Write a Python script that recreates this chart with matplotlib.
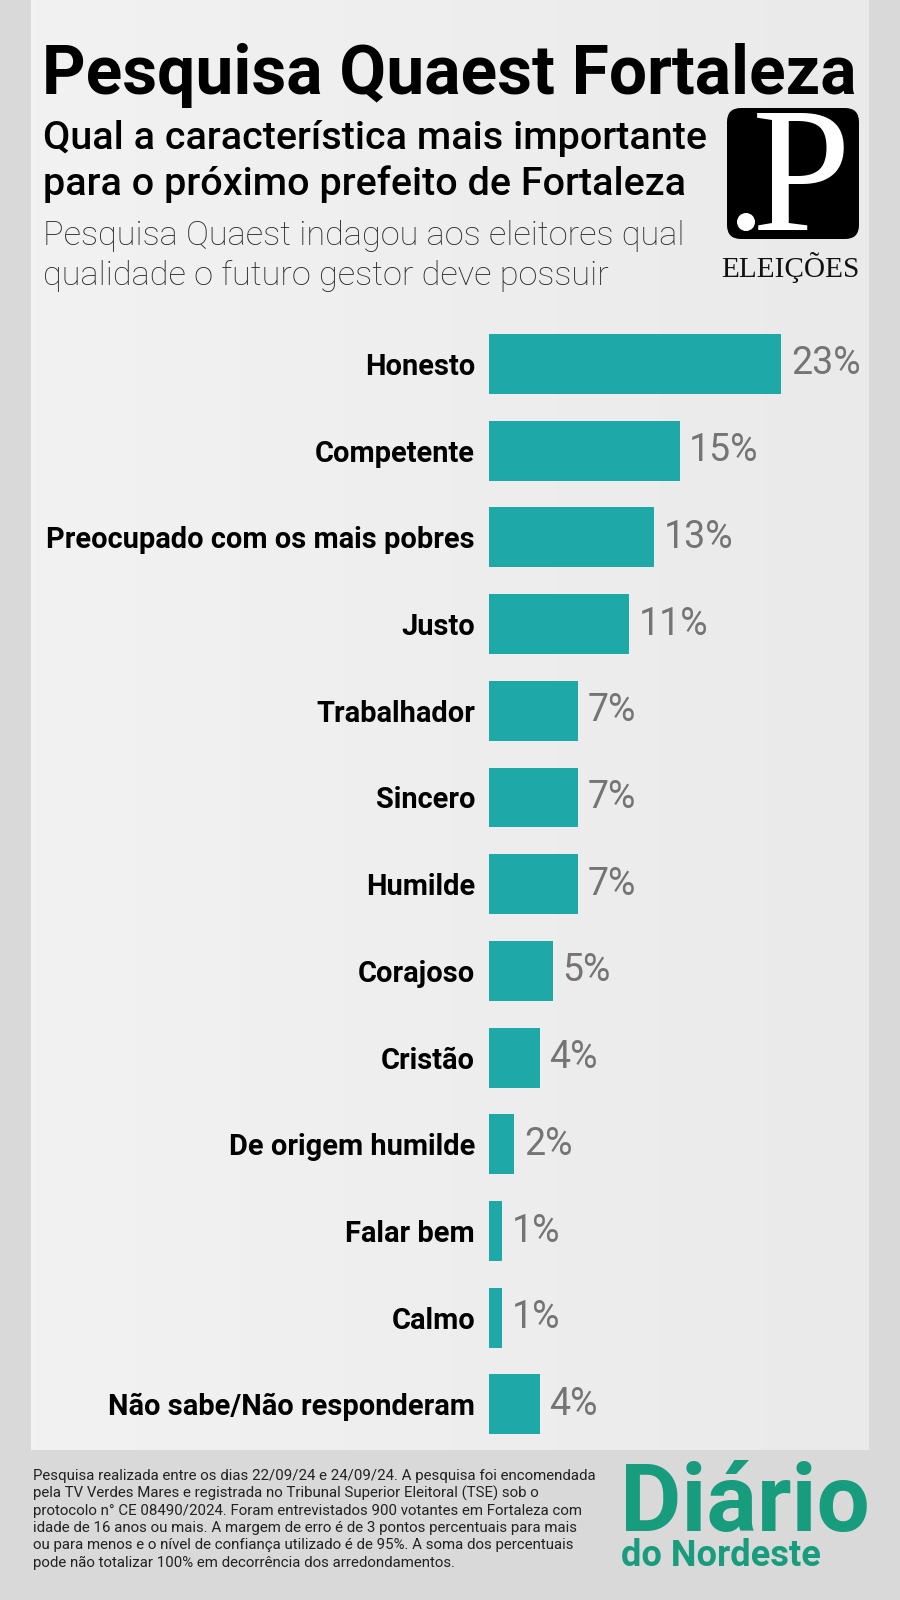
import matplotlib as mpl
mpl.use('Agg')
import numpy as np
import matplotlib.pyplot as plt
from matplotlib.patches import FancyBboxPatch, Circle

# data
categories = ['Honesto', 'Competente', 'Preocupado com os mais pobres', 'Justo',
              'Trabalhador', 'Sincero', 'Humilde', 'Corajoso', 'Cristão',
              'De origem humilde', 'Falar bem', 'Calmo', 'Não sabe/Não responderam']
values = [23, 15, 13, 11, 7, 7, 7, 5, 4, 2, 1, 1, 4]

title = 'Pesquisa Quaest Fortaleza'
subtitle = ['Qual a característica mais importante',
            'para o próximo prefeito de Fortaleza']
description = ['Pesquisa Quaest indagou aos eleitores qual',
               'qualidade o futuro gestor deve possuir']
footnote = ['Pesquisa realizada entre os dias 22/09/24 e 24/09/24. A pesquisa foi encomendada',
            'pela TV Verdes Mares e registrada no Tribunal Superior Eleitoral (TSE) sob o',
            'protocolo n° CE 08490/2024. Foram entrevistados 900 votantes em Fortaleza com',
            'idade de 16 anos ou mais. A margem de erro é de 3 pontos percentuais para mais',
            'ou para menos e o nível de confiança utilizado é de 95%. A soma dos percentuais',
            'pode não totalizar 100% em decorrência dos arredondamentos.']

W, H = 900, 1600
BAR = '#1fa8a8'
GREEN = '#179c7d'

fig = plt.figure(figsize=(W / 100, H / 100), dpi=100)
fig.patch.set_facecolor('#d9d9d9')
renderer = fig.canvas.get_renderer()

# background layer in pixel coordinates
bg = fig.add_axes([0, 0, 1, 1])
bg.set_xlim(0, W)
bg.set_ylim(H, 0)
bg.axis('off')
grad = np.linspace(0, 1, 256).reshape(1, -1)
bg.imshow(np.vstack([grad] * 2), extent=(31, 869, 1450, 0), aspect='auto',
          cmap=mpl.colors.LinearSegmentedColormap.from_list('g', ['#f2f2f2', '#eaeaea']),
          zorder=0)


def fit(x, y, s, width, **kw):
    """Put text and scale its size so it is `width` pixels wide"""
    t = bg.text(x, y, s, **kw)
    bb = t.get_window_extent(renderer)
    t.set_fontsize(t.get_fontsize() * width / bb.width)
    return t


fit(42, 94, title, 813, fontsize=40, family='Roboto', weight='bold',
    color='black', va='baseline')
s1 = fit(43, 149, subtitle[0], 664, fontsize=20, family='Roboto', weight='medium',
         color='black', va='baseline')
bg.text(43, 195, subtitle[1], fontsize=s1.get_fontsize(), family='Roboto',
        weight='medium', color='black', va='baseline')
d1 = fit(43, 245, description[0], 639, fontsize=20, family='Roboto', weight='light',
         color='#2a2a2a', va='baseline')
bg.text(43, 285, description[1], fontsize=d1.get_fontsize(), family='Roboto',
        weight='light', color='#2a2a2a', va='baseline')

# .P logo
bg.add_patch(FancyBboxPatch((730, 111), 126, 125, boxstyle='round,pad=3,rounding_size=14',
                            fc='black', ec='none', zorder=2))
bg.text(801, 230, 'P', fontsize=128, family='Liberation Serif', color='white',
        ha='center', va='baseline', zorder=3)
bg.add_patch(Circle((746, 222), 9, fc='white', ec='none', zorder=3))
fit(721, 277, 'ELEIÇÕES', 138, fontsize=18, family='Liberation Serif', color='#111111',
    va='baseline')

# bar chart
px = 12.7  # pixels per percentage point
row = 86.7
top_c = 364
x0 = 489
ax = fig.add_axes([x0 / W, 1 - (top_c + 12.5 * row) / H, (869 - x0) / W, 13 * row / H])
ax.set_xlim(0, (869 - x0) / px)
ax.set_ylim(12.5, -0.5)
ax.patch.set_alpha(0)
y = np.arange(len(categories))
ax.barh(y, values, height=0.69, color=BAR, zorder=2)
for yi, v in zip(y, values):
    ax.annotate(f'{v}%', (v, yi), xytext=(7, 0), textcoords='offset points',
                va='center', ha='left', fontsize=27, family='Roboto', weight='normal',
                color='#747474')

# label size so the longest one is as wide as in the original
probe = bg.text(0, 0, categories[2], fontsize=24, family='Roboto', weight='bold')
lab_size = 24 * 429 / probe.get_window_extent(renderer).width
probe.remove()
ax.set_yticks(y)
ax.set_yticklabels(categories, fontsize=lab_size, family='Roboto', weight='bold',
                   color='black')
ax.tick_params(axis='y', length=0, pad=10)
ax.set_xticks([])
for sp in ax.spines.values():
    sp.set_visible(False)

# footnote
f1 = fit(33, 1476, footnote[0], 562, fontsize=10, family='Roboto', color='#222222',
         va='center')
for i, line in enumerate(footnote[1:], start=1):
    bg.text(33, 1476 + i * 17.3, line, fontsize=f1.get_fontsize(), family='Roboto',
            color='#222222', va='center')

fit(620, 1531, 'Diário', 250, fontsize=60, family='Roboto', weight='bold',
    color=GREEN, va='baseline')
fit(621, 1566, 'do Nordeste', 200, fontsize=24, family='Roboto', weight='bold',
    color=GREEN, va='baseline')

plt.savefig('out.png', dpi=100, facecolor=fig.get_facecolor())
plt.close()
